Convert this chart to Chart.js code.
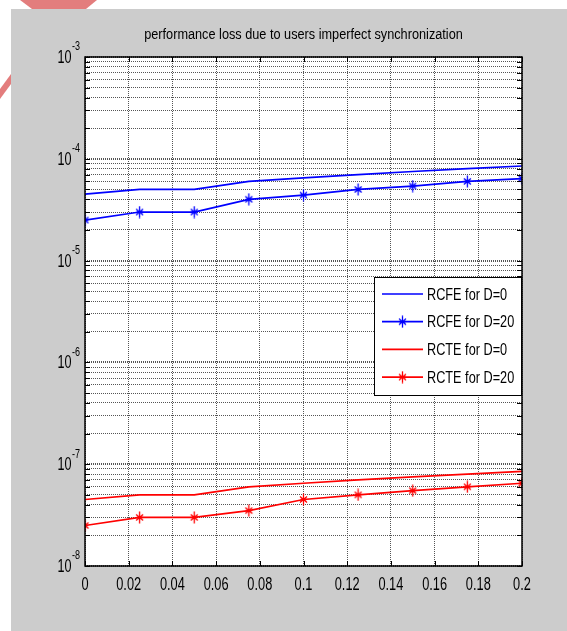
<!DOCTYPE html>
<html lang="en">
<head>
    <meta charset="UTF-8">
    <title>performance loss due to users imperfect synchronization</title>
    <script src="https://cdn.jsdelivr.net/npm/chart.js"></script>
    <style>
        body { margin: 0; background: #ffffff; }
        #lossChart { display: block; }
    </style>
</head>
<body>
    <canvas id="lossChart" width="567" height="631"></canvas>

<script>
// values
const xValues = [0, 0.025, 0.05, 0.075, 0.1, 0.125, 0.15, 0.175, 0.2];
const rcfeD0 = [4.5e-5, 5e-5, 5e-5, 6e-5, 6.5e-5, 7e-5, 7.5e-5, 8e-5, 8.5e-5];
const rcfeD20 = [2.5e-5, 3e-5, 3e-5, 4e-5, 4.4e-5, 5e-5, 5.4e-5, 6e-5, 6.4e-5];
const rcteD0 = [4.5e-8, 5e-8, 5e-8, 6e-8, 6.5e-8, 7e-8, 7.5e-8, 8e-8, 8.5e-8];
const rcteD20 = [2.5e-8, 3e-8, 3e-8, 3.5e-8, 4.5e-8, 5e-8, 5.5e-8, 6e-8, 6.5e-8];

const seriesNames = ["RCFE for D=0", "RCFE for D=20", "RCTE for D=0", "RCTE for D=20"];
const titleText = "performance loss due to users imperfect synchronization";
const xTickLabels = ["0", "0.02", "0.04", "0.06", "0.08", "0.1", "0.12", "0.14", "0.16", "0.18", "0.2"];
const yExponents = [-8, -7, -6, -5, -4, -3];

const FONT = "'Liberation Sans', Arial, sans-serif";

// minor log ticks 1..9 x 10^k, used for the grid
const yTickValues = [];
yExponents.forEach(e => {
    const steps = e === -3 ? [1] : [1, 2, 3, 4, 5, 6, 7, 8, 9];
    steps.forEach(m => yTickValues.push(Number((m * Math.pow(10, e)).toPrecision(3))));
});

function makeStar(color) {
    const c = document.createElement("canvas");
    c.width = 13;
    c.height = 13;
    const g = c.getContext("2d");
    g.strokeStyle = color;
    g.lineWidth = 1.3;
    g.beginPath();
    g.moveTo(6.5, 0.5); g.lineTo(6.5, 12.5);
    g.moveTo(3, 3.5); g.lineTo(10, 9.5);
    g.moveTo(10, 3.5); g.lineTo(3, 9.5);
    g.moveTo(3.5, 6.5); g.lineTo(9.5, 6.5);
    g.stroke();
    return c;
}

const blueStar = makeStar("#0000ff");
const redStar = makeStar("#ff0000");

function toPoints(ys) {
    return xValues.map((x, i) => ({ x: x, y: ys[i] }));
}

// the original figure uses a narrow face, so squeeze text horizontally
function narrowText(ctx, text, x, y, size, align, squeeze) {
    ctx.save();
    ctx.font = size + "px " + FONT;
    ctx.textAlign = align;
    ctx.translate(x, y);
    ctx.scale(squeeze, 1);
    ctx.fillText(text, 0, 0);
    ctx.restore();
}

const figurePlugin = {
    id: "figure",
    beforeDraw(chart) {
        const ctx = chart.ctx;
        ctx.save();
        // bits of the pink shape peeking out behind the figure
        ctx.fillStyle = "#e37d7d";
        ctx.beginPath();
        ctx.moveTo(20, 0); ctx.lineTo(97, 0); ctx.lineTo(86, 9); ctx.lineTo(32, 9);
        ctx.closePath();
        ctx.fill();
        ctx.beginPath();
        ctx.moveTo(11, 74); ctx.lineTo(11, 84); ctx.lineTo(0, 99); ctx.lineTo(0, 89);
        ctx.closePath();
        ctx.fill();
        // grey figure background
        ctx.fillStyle = "#cccccc";
        ctx.fillRect(11, 9, chart.width - 11, chart.height - 9);
        const a = chart.chartArea;
        ctx.fillStyle = "#ffffff";
        ctx.fillRect(a.left, a.top, a.right - a.left, a.bottom - a.top);
        ctx.restore();
    },
    afterDatasetsDraw(chart) {
        const ctx = chart.ctx;
        const a = chart.chartArea;
        const xs = chart.scales.x;
        const ys = chart.scales.y;
        ctx.save();

        // inward tick marks
        ctx.strokeStyle = "#000000";
        ctx.lineWidth = 1;
        ctx.beginPath();
        xs.ticks.forEach(t => {
            const px = Math.round(xs.getPixelForValue(t.value)) + 0.5;
            ctx.moveTo(px, a.bottom); ctx.lineTo(px, a.bottom - 5);
            ctx.moveTo(px, a.top); ctx.lineTo(px, a.top + 5);
        });
        yTickValues.forEach(v => {
            const py = Math.round(ys.getPixelForValue(v)) + 0.5;
            ctx.moveTo(a.left, py); ctx.lineTo(a.left + 5, py);
            ctx.moveTo(a.right, py); ctx.lineTo(a.right - 5, py);
        });
        ctx.stroke();

        // axes box
        ctx.lineWidth = 1.5;
        ctx.strokeRect(a.left, a.top, a.right - a.left, a.bottom - a.top);

        ctx.fillStyle = "#000000";
        ctx.textBaseline = "middle";

        // title
        narrowText(ctx, titleText, (a.left + a.right) / 2, 35, 15.5, "center", 0.82);

        // x labels
        xs.ticks.forEach((t, i) => {
            narrowText(ctx, xTickLabels[i], xs.getPixelForValue(t.value), 585, 17.5, "center", 0.73);
        });

        // y labels as 10 with a raised exponent
        yExponents.forEach(e => {
            const py = ys.getPixelForValue(Math.pow(10, e));
            const expText = String(e);
            ctx.font = "12px " + FONT;
            const w = ctx.measureText(expText).width * 0.75;
            narrowText(ctx, expText, a.left - 5, py - 10, 12, "right", 0.75);
            narrowText(ctx, "10", a.left - 5.5 - w, py + 1, 18, "right", 0.7);
        });

        // legend box
        const lx = 374, ly = 277, lw = 147, lh = 118;
        ctx.fillStyle = "#ffffff";
        ctx.fillRect(lx, ly, lw, lh);
        ctx.lineWidth = 1;
        ctx.strokeStyle = "#000000";
        ctx.strokeRect(lx + 0.5, ly + 0.5, lw, lh);
        chart.data.datasets.forEach((ds, i) => {
            const cy = 294 + i * 27.7;
            ctx.strokeStyle = ds.borderColor;
            ctx.lineWidth = ds.borderWidth;
            ctx.beginPath();
            ctx.moveTo(382, cy); ctx.lineTo(423, cy);
            ctx.stroke();
            if (ds.pointStyle) {
                ctx.drawImage(ds.pointStyle, 402.5 - 6.5, cy - 6.5);
            }
            ctx.fillStyle = "#000000";
            narrowText(ctx, ds.label, 427, cy + 1, 16.5, "left", 0.77);
        });
        ctx.restore();
    }
};

new Chart(document.getElementById("lossChart"), {
    type: "line",
    data: {
        datasets: [
            {
                label: seriesNames[0],
                data: toPoints(rcfeD0),
                borderColor: "#0000ff",
                borderWidth: 1.7,
                pointRadius: 0,
                pointStyle: false
            },
            {
                label: seriesNames[1],
                data: toPoints(rcfeD20),
                borderColor: "#0000ff",
                borderWidth: 1.7,
                pointStyle: blueStar,
                pointRadius: 6
            },
            {
                label: seriesNames[2],
                data: toPoints(rcteD0),
                borderColor: "#ff0000",
                borderWidth: 1.7,
                pointRadius: 0,
                pointStyle: false
            },
            {
                label: seriesNames[3],
                data: toPoints(rcteD20),
                borderColor: "#ff0000",
                borderWidth: 1.7,
                pointStyle: redStar,
                pointRadius: 6
            }
        ]
    },
    options: {
        responsive: false,
        animation: false,
        devicePixelRatio: 1,
        layout: { padding: { left: 0, top: 57, right: 45, bottom: 0 } },
        plugins: {
            legend: { display: false },
            tooltip: { enabled: false },
            title: { display: false }
        },
        scales: {
            x: {
                type: "linear",
                min: 0,
                max: 0.2,
                afterFit: scale => { scale.height = 65; },
                grid: { color: "#555555", lineWidth: 1, drawTicks: false },
                border: { display: false, dash: [1, 1] },
                ticks: {
                    stepSize: 0.02,
                    autoSkip: false,
                    maxRotation: 0,
                    display: false
                }
            },
            y: {
                type: "logarithmic",
                min: 1e-8,
                max: 1e-3,
                afterBuildTicks: scale => {
                    scale.ticks = yTickValues.map(v => ({ value: v }));
                },
                afterFit: scale => { scale.width = 85; },
                grid: {
                    color: "#555555",
                    drawTicks: false,
                    lineWidth: ctx => {
                        const v = ctx.tick ? ctx.tick.value : 0;
                        const m = v / Math.pow(10, Math.floor(Math.log10(v) + 1e-9));
                        return Math.abs(m - 1) < 1e-6 ? 2 : 1;
                    }
                },
                border: { display: false, dash: [1, 1] },
                ticks: { display: false, autoSkip: false }
            }
        }
    },
    plugins: [figurePlugin]
});
</script>
</body>
</html>
